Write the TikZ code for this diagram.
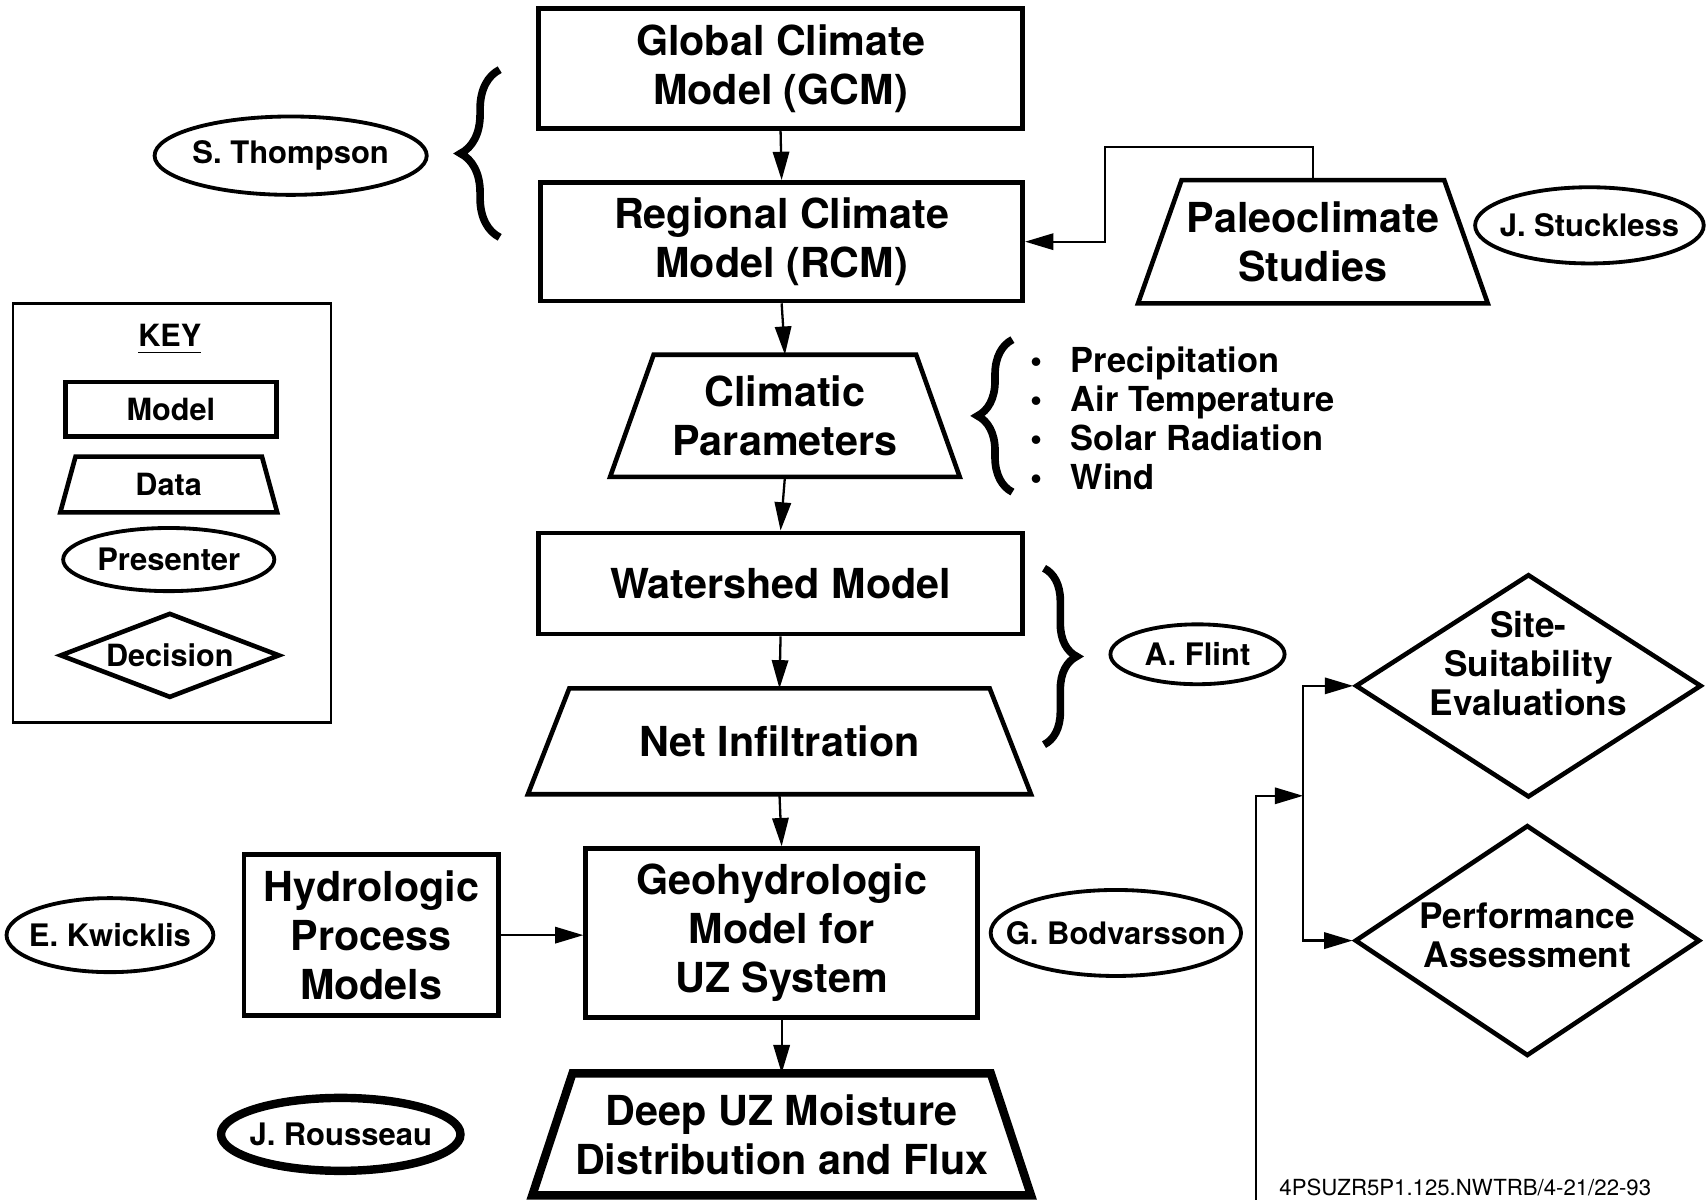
\documentclass[tikz,border=0pt]{standalone}
\usepackage{fontspec}
\setmainfont{TeX Gyre Heros}
\usetikzlibrary{shapes.geometric,arrows.meta,decorations.pathreplacing}

% text that should not widen its shape
\newcommand{\nowide}[1]{\makebox[0pt]{#1}}

\begin{document}
\begin{tikzpicture}[x=0.1mm,y=-0.1mm,
  >={Triangle[length=2.6mm,width=1.5mm]},
  model/.style={draw,line width=1.2pt,align=center,inner sep=0pt,
    font=\bfseries\fontsize{10.8}{12.8}\selectfont},
  data/.style 2 args={model,draw=none,append after command={\pgfextra{
    \draw[line width=#2] ([xshift=#1]\tikzlastnode.north west) -- ([xshift=-#1]\tikzlastnode.north east)
      -- (\tikzlastnode.south east) -- (\tikzlastnode.south west) -- cycle;}}},
  who/.style={draw,ellipse,line width=1pt,inner sep=0pt,
    font=\bfseries\fontsize{8.1}{9.5}\selectfont},
  decide/.style={draw,diamond,line width=1.2pt,inner sep=0pt,
    font=\bfseries\fontsize{9.2}{10.2}\selectfont},
  flow/.style={->,line width=0.6pt},
  curly/.style={decorate,decoration={brace,amplitude=#1},line width=2pt},
]
\useasboundingbox (0,0) rectangle (1568,1102);

% main column
\node[model,minimum width=44.5mm,minimum height=11mm] (gcm) at (717,63) {Global Climate\\Model (GCM)};
\node[model,minimum width=44.3mm,minimum height=10.9mm] (rcm) at (718,222) {Regional Climate\\Model (RCM)};
\node[data={4mm}{1.2pt},minimum width=31.7mm,minimum height=10.8mm] (clim) at (721,382) {Climatic\\Parameters};
\node[model,minimum width=44.5mm,minimum height=9.3mm] (shed) at (717,536) {Watershed Model};
\node[data={3.8mm}{1.2pt},minimum width=45.8mm,minimum height=9.3mm] (infil) at (716,681) {Net Infiltration};
\node[model,minimum width=36mm,minimum height=15.5mm] (geo) at (718,857) {Geohydrologic\\Model for\\UZ System};
\node[data={3.7mm}{2.2pt},minimum width=45.4mm,minimum height=10.8mm] (deep) at (718,1042) {Deep UZ Moisture\\Distribution and Flux};

% side inputs
\node[model,minimum width=23.4mm,minimum height=14.8mm] (hydro) at (341,859) {Hydrologic\\Process\\Models};
\node[data={4mm}{1.2pt},minimum width=31.7mm,minimum height=10.9mm] (paleo) at (1206,222) {Paleoclimate\\Studies};
\node[anchor=west,align=left,font=\bfseries\fontsize{9}{10.2}\selectfont] (params) at (934,384)
  {\textbullet\hspace{2.6mm}Precipitation\\\textbullet\hspace{2.6mm}Air Temperature\\\textbullet\hspace{2.6mm}Solar Radiation\\\textbullet\hspace{2.6mm}Wind};

% presenters
\node[who,minimum width=25mm,minimum height=7.2mm] (thompson) at (267,143) {\nowide{S. Thompson}};
\node[who,minimum width=21mm,minimum height=7mm] (stuckless) at (1460,207) {\nowide{J. Stuckless}};
\node[who,minimum width=16mm,minimum height=5.5mm] (flint) at (1100,601) {\nowide{A. Flint}};
\node[who,minimum width=19mm,minimum height=6.8mm] (kwicklis) at (101,859) {\nowide{E. Kwicklis}};
\node[who,minimum width=23mm,minimum height=7.9mm] (bodvarsson) at (1025,857) {\nowide{G. Bodvarsson}};
\node[who,line width=2.2pt,minimum width=22mm,minimum height=6.7mm] (rousseau) at (313,1042) {\nowide{J. Rousseau}};

% decisions
\node[decide,minimum width=31.8mm,minimum height=20.5mm] (site) at (1404,630)
  {\nowide{\raisebox{0pt}[\height][\dimexpr\depth+3.2mm\relax]{\begin{tabular}{@{}c@{}}Site-\\Suitability\\Evaluations\end{tabular}}}};
\node[decide,minimum width=31.7mm,minimum height=21.2mm] (perf) at (1403,864)
  {\nowide{\begin{tabular}{@{}c@{}}Performance\\Assessment\end{tabular}}};

% key
\node[draw,line width=0.7pt,minimum width=29.2mm,minimum height=38.5mm] (key) at (158,471) {};
\node[font=\bfseries\fontsize{8}{9.5}\selectfont] (keytitle) at (156,312) {\underline{KEY}};
\node[model,font=\bfseries\fontsize{8}{9.5}\selectfont,minimum width=19.4mm,minimum height=5mm] (keymodel) at (157,376) {Model};
\node[data={1.4mm}{1.2pt},font=\bfseries\fontsize{8}{9.5}\selectfont,minimum width=19.5mm,minimum height=4.7mm] (keydata) at (155,445) {Data};
\node[who,minimum width=19.4mm,minimum height=5.8mm] (keywho) at (155,514) {\nowide{Presenter}};
\node[decide,font=\bfseries\fontsize{8}{9.5}\selectfont,minimum width=20.2mm,minimum height=7.8mm] (keydecide) at (156,602) {\nowide{Decision}};

% braces
\draw[curly=3.6mm] (459,218) -- (459,64);
\draw[curly=3.2mm] (930,452) -- (930,312);
\draw[curly=3mm] (959,522) -- (959,684);

% connectors
\draw[flow] (gcm.south) -- (rcm.north);
\draw[flow] (rcm.south) -- (clim.north);
\draw[flow] (clim.south) -- (shed.north);
\draw[flow] (shed.south) -- (infil.north);
\draw[flow] (infil.south) -- (geo.north);
\draw[flow] (geo.south) -- (deep.north);
\draw[flow] (hydro.east) -- (hydro.east -| geo.west);
\coordinate (pbend) at (1015,135);
\draw[flow] (paleo.north) |- (pbend) |- (rcm.east);
\coordinate (feed) at (1154,1102);
\coordinate (split) at (1197,731);
\draw[flow] (feed) |- (split);
\draw[flow] (split) |- (site.west);
\draw[flow] (split) |- (perf.west);

\node[font=\fontsize{5.8}{7}\selectfont] (tag) at (1346,1091) {4PSUZR5P1.125.NWTRB/4-21/22-93};
\end{tikzpicture}
\end{document}
